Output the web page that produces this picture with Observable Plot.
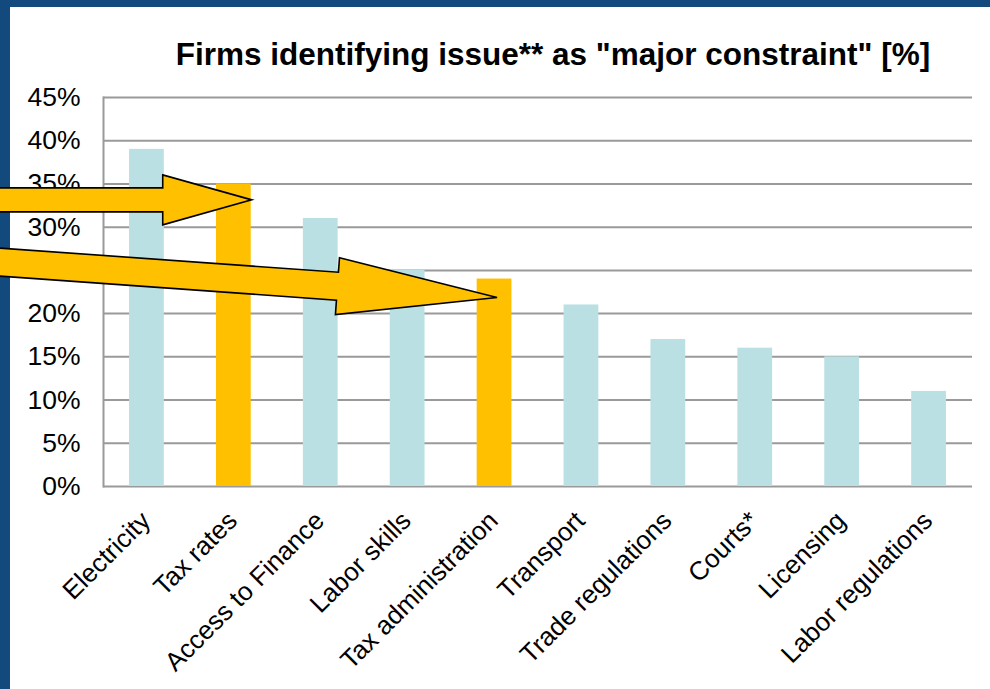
<!DOCTYPE html>
<html>
<head>
<meta charset="utf-8">
<script src="https://cdn.jsdelivr.net/npm/d3@7"></script>
<script src="https://cdn.jsdelivr.net/npm/@observablehq/plot@0.6"></script>
<style>
  html, body { margin: 0; padding: 0; background: #fff; }
  #frame { position: relative; width: 990px; height: 689px; overflow: hidden; background: #fff;
           font-family: "Liberation Sans", Arial, sans-serif; }
  #topbar { position: absolute; left: 0; top: 0; width: 990px; height: 7px; background: #124A7E; }
  #leftbar { position: absolute; left: 0; top: 0; width: 10px; height: 689px; background: #124A7E; }
  #title { position: absolute; left: 116px; top: 38px; width: 874px; text-align: center;
           font-weight: bold; font-size: 31.5px; line-height: 32px; color: #000; white-space: nowrap; }
  #chart { position: absolute; left: 0; top: 80px; }
</style>
</head>
<body>
<div id="frame">
  <div id="topbar"></div>
  <div id="leftbar"></div>
  <div id="title">Firms identifying issue** as "major constraint" [%]</div>
  <div id="chart"></div>
</div>
<script>
// ---- data ----
const categories = ["Electricity", "Tax rates", "Access to Finance", "Labor skills", "Tax administration",
                    "Transport", "Trade regulations", "Courts*", "Licensing", "Labor regulations"];
const shares = [39, 35, 31, 25, 24, 21, 17, 16, 15, 11];
const highlighted = ["Tax rates", "Tax administration"];
const yTicks = [0, 5, 10, 15, 20, 25, 30, 35, 40, 45];
const yTickLabels = ["0%", "5%", "10%", "15%", "20%", "25%", "30%", "35%", "40%", "45%"];
// annotation arrows: target category and value where the tip points, value at the left edge
const arrowTargets = ["Tax rates", "Tax administration"];
const arrowTipValues = [33.1, 21.8];
const arrowTailValues = [33.1, 25.9];

// ---- build ----
const data = categories.map((c, i) => ({category: c, share: shares[i], hi: highlighted.includes(c)}));
const COLOR_BASE = "#BAE0E3", COLOR_HI = "#FFC000", GRID = "#9A9A9A";

const plot = Plot.plot({
  width: 990,
  height: 609,
  marginTop: 17,
  marginBottom: 203,
  marginLeft: 103,
  marginRight: 18,
  style: {background: "transparent", overflow: "visible", fontFamily: "'Liberation Sans', Arial, sans-serif"},
  x: {domain: categories, paddingInner: 0.6, paddingOuter: 0.3, round: false, axis: null},
  y: {domain: [0, 45], axis: null},
  marks: [
    Plot.gridY(yTicks, {stroke: GRID, strokeOpacity: 1, strokeWidth: 2}),
    Plot.frame({anchor: "left", stroke: GRID, strokeWidth: 2}),
    Plot.barY(data, {x: "category", y: "share", fill: d => d.hi ? COLOR_HI : COLOR_BASE}),
    Plot.axisY(yTicks, {tickSize: 0, tickPadding: 23, tickFormat: (d) => yTickLabels[yTicks.indexOf(d)],
                        fontSize: 26.5, fill: "#000", label: null}),
    Plot.text(categories, {x: d => d, frameAnchor: "bottom", dy: 30, dx: -1, rotate: -45,
                           textAnchor: "end", lineAnchor: "middle", fontSize: 26, fill: "#000"})
  ]
});
document.getElementById("chart").appendChild(plot);

// ---- annotation arrows drawn through the plot's scales ----
const xs = plot.scale("x"), ys = plot.scale("y");
const bw = xs.bandwidth;
const arrowGeom = [
  {tipAt: 1.0, tipDx: 1, shaft: 24, head: 50, headLen: 89},
  {tipAt: 0.5, tipDx: 3, shaft: 28, head: 57, headLen: 160}
];
const svg = d3.select(plot);
arrowTargets.forEach((cat, i) => {
  const g = arrowGeom[i];
  const px = xs.apply(cat) + bw * g.tipAt + g.tipDx;
  const py = ys.apply(arrowTipValues[i]);
  const tx = -12;
  const tyBase = ys.apply(arrowTailValues[i]);
  const slope = (py - tyBase) / px;
  const ty = tyBase + slope * tx;
  const L = Math.hypot(px - tx, py - ty);
  const ux = (px - tx) / L, uy = (py - ty) / L;
  const nx = -uy, ny = ux;
  const bx = px - ux * g.headLen, by = py - uy * g.headLen;
  const pts = [
    [tx + nx * g.shaft / 2, ty + ny * g.shaft / 2],
    [bx + nx * g.shaft / 2, by + ny * g.shaft / 2],
    [bx + nx * g.head / 2, by + ny * g.head / 2],
    [px, py],
    [bx - nx * g.head / 2, by - ny * g.head / 2],
    [bx - nx * g.shaft / 2, by - ny * g.shaft / 2],
    [tx - nx * g.shaft / 2, ty - ny * g.shaft / 2]
  ];
  svg.append("polygon")
    .attr("points", pts.map(p => p.join(",")).join(" "))
    .attr("fill", COLOR_HI)
    .attr("stroke", "#000")
    .attr("stroke-width", 1.6)
    .attr("stroke-linejoin", "miter");
});
</script>
</body>
</html>
